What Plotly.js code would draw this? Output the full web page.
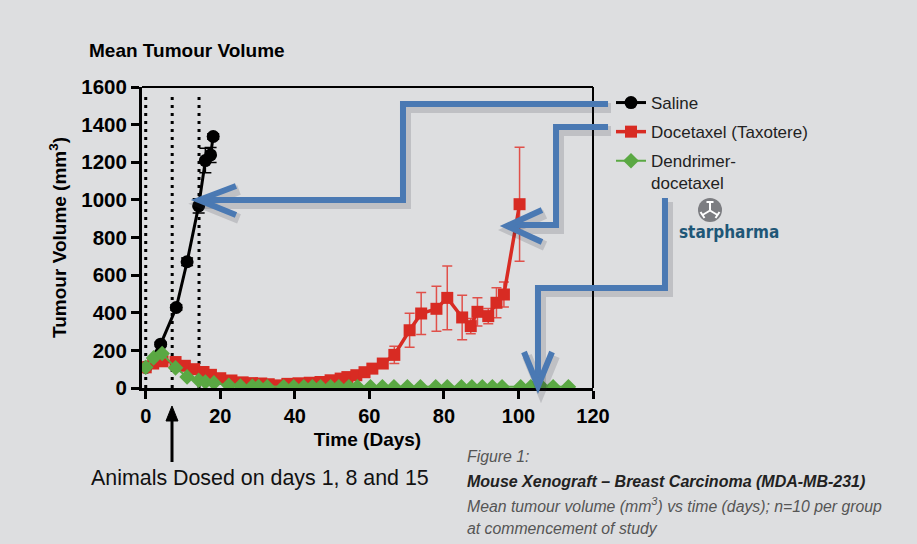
<!DOCTYPE html>
<html><head><meta charset="utf-8">
<script src="https://cdn.plot.ly/plotly-3.0.1.min.js"></script>
<style>html,body{margin:0;padding:0;background:#dddee0;} #chart{width:917px;height:544px;}</style>
</head><body><div id="chart"></div>
<script>
// ---- data ----
const salineDays = [0, 4, 8.2, 11.1, 14.2, 16, 17.4, 18.1];
const salineVol  = [110, 233, 428, 671, 968, 1209, 1239, 1337];
const salineErr  = [5, 10, 15, 20, 38, 65, 40, 15];

const docDays = [0, 2, 4.5, 8, 10.5, 13, 15.5, 17.5, 20, 23, 26, 28.5, 31, 33, 35, 38, 41, 44, 46.9, 49.6, 52.3, 54.1, 56.5, 58.7, 60.8, 63.6, 66.7, 70.8, 73.9, 78, 80.9, 84.9, 87.2, 89, 91.9, 94.1, 96.1, 100.3];
const docVol  = [110, 130, 142, 138, 118, 100, 85, 70, 52, 40, 30, 26, 24, 20, 14, 22, 25, 28, 32, 41, 50, 58, 68, 84, 103, 130, 176, 307, 396, 421, 479, 375, 329, 405, 382, 453, 497, 977];
const docErr  = [5, 6, 8, 8, 8, 7, 6, 6, 5, 5, 5, 5, 5, 5, 5, 5, 5, 5, 6, 7, 8, 9, 10, 12, 15, 20, 46, 90, 111, 120, 170, 118, 40, 75, 40, 80, 66, 303];

const dendDays = [0, 2.1, 4.4, 8, 11.1, 14.2, 16, 18.3, 22.3, 25.4, 28.6, 30.3, 32.6, 37, 39.7, 42.4, 44.7, 46.9, 49.6, 51.8, 54.5, 56.8, 60.3, 63.5, 66.6, 70.2, 73.7, 77.8, 80.9, 84.7, 87.5, 90.3, 93, 95.6, 100.6, 103.3, 106.2, 109.3, 113.4];
const dendVol  = [110, 160, 183, 107, 59, 41, 32, 27, 14, 11, 9, 8, 7, 6, 6, 6, 6, 6, 6, 6, 6, 6, 6, 6, 6, 6, 6, 6, 6, 6, 6, 6, 6, 6, 6, 6, 6, 6, 6];

const doseLineDays = [0, 7.1, 14.3];
const seriesNames = ['Saline', 'Docetaxel (Taxotere)', 'Dendrimer-<br>docetaxel'];
const xTicks = [0, 20, 40, 60, 80, 100, 120];
const yTicks = [0, 200, 400, 600, 800, 1000, 1200, 1400, 1600];

// ---- layout geometry ----
const W = 917, H = 544, L = 142, R = 324, T = 87, B = 156;
const pw = W - L - R, ph = H - T - B;
const fx = px => (px - L) / pw;
const fy = py => (H - B - py) / ph;
const path = pts => pts.map((p, i) => (i ? 'L' : 'M') + fx(p[0]).toFixed(4) + ',' + fy(p[1]).toFixed(4)).join(' ');

const FONT = 'Liberation Sans, Arial, Helvetica, sans-serif';
const RED = '#d82b23', GREEN = '#5aa843', BLUE = '#4a79b3';

const traces = [
  {x: salineDays, y: salineVol, name: seriesNames[0], type: 'scatter', mode: 'lines+markers',
   legendgroup: 'a',
   line: {color: '#000', width: 3}, marker: {symbol: 'circle', size: 13, color: '#000'},
   error_y: {type: 'data', array: salineErr, color: '#000', thickness: 1.5, width: 6}},
  {x: docDays, y: docVol, name: seriesNames[1], type: 'scatter', mode: 'lines+markers',
   legendgroup: 'b',
   line: {color: RED, width: 3.5}, marker: {symbol: 'square', size: 12, color: RED},
   error_y: {type: 'data', array: docErr, color: '#e0504a', thickness: 1.5, width: 5}},
  {x: dendDays, y: dendVol, name: seriesNames[2], type: 'scatter', mode: 'lines+markers',
   legendgroup: 'c',
   line: {color: GREEN, width: 2}, marker: {symbol: 'diamond', size: 12, color: GREEN}}
];

const shapes = [];
doseLineDays.forEach(d => shapes.push({type: 'line', layer: 'below', xref: 'x', yref: 'paper',
  x0: d, x1: d, y0: 0, y1: 0.97, line: {color: '#000', width: 3, dash: '3px,5px'}}));
// frame top/right
shapes.push({type: 'line', xref: 'paper', yref: 'paper', x0: 0, x1: 1, y0: 1, y1: 1, line: {color: '#000', width: 2}});
shapes.push({type: 'line', xref: 'paper', yref: 'paper', x0: 1, x1: 1, y0: 0, y1: 1, line: {color: '#000', width: 2}});

// blue arrows (decorative)
const arrows = [
  [[608,104],[403,104],[403,200],[200,200]],
  [[236,186],[199,200],[236,215]],
  [[608,127],[556,127],[556,225],[510,225]],
  [[542,210],[507,226],[542,242]],
  [[665,198],[665,288],[538,288],[538,384]],
  [[524,352],[538,386],[552,352]]
];
arrows.forEach(a => shapes.push({type: 'path', xref: 'paper', yref: 'paper',
  path: path(a.map(p => [p[0] + 3, p[1] + 4])), line: {color: 'rgba(40,40,50,0.16)', width: 10}}));
arrows.forEach(a => shapes.push({type: 'path', xref: 'paper', yref: 'paper',
  path: path(a), line: {color: BLUE, width: 6}}));

// up arrow under axis
shapes.push({type: 'line', xref: 'paper', yref: 'paper', x0: fx(172), x1: fx(172), y0: fy(462), y1: fy(418), line: {color: '#000', width: 3}});
shapes.push({type: 'path', xref: 'paper', yref: 'paper', path: path([[166,421],[172,406],[178,421]]) + ' Z', fillcolor: '#000', line: {color: '#000', width: 1}});

// logo icon
shapes.push({type: 'circle', xref: 'paper', yref: 'paper', x0: fx(698), x1: fx(722), y0: fy(222), y1: fy(198), fillcolor: '#7c7d81', line: {width: 0}});
[[[710,210.5],[710,202]],[[710,210.5],[702.5,215]],[[710,210.5],[717.5,215]],
 [[706.5,202],[713.5,202]],[[700.5,212],[704.5,218]],[[719.5,212],[715.5,218]]].forEach(s =>
  shapes.push({type: 'line', xref: 'paper', yref: 'paper', x0: fx(s[0][0]), y0: fy(s[0][1]), x1: fx(s[1][0]), y1: fy(s[1][1]), line: {color: '#fff', width: 2}}));

const ann = (text, px, py, size, color, anchor) => ({text, xref: 'paper', yref: 'paper', x: fx(px), y: fy(py),
  xanchor: anchor || 'left', yanchor: 'middle', showarrow: false, font: {family: FONT, size, color}});

const annotations = [
  ann('Animals Dosed on days 1, 8 and 15', 89, 478, 21.4, '#111'),
  ann('<i>Figure 1:</i>', 465, 456, 15.8, '#555'),
  ann('<b><i>Mouse Xenograft – Breast Carcinoma (MDA-MB-231)</i></b>', 465, 481, 16, '#222'),
  ann('<i>Mean tumour volume (mm<sup>3</sup>) vs time (days); n=10 per group</i>', 465, 505, 15.8, '#555'),
  ann('<i>at commencement of study</i>', 465, 528, 15.8, '#555'),
  {text: '<b>starpharma</b>', xref: 'paper', yref: 'paper', x: fx(729), y: fy(232), xanchor: 'center', yanchor: 'middle',
   showarrow: false, font: {family: 'Liberation Sans Narrow, DejaVu Sans Condensed, sans-serif', size: 17, color: '#1f5777'}}
];

const layout = {
  width: W, height: H,
  margin: {l: L, r: R, t: T, b: B, pad: 0},
  paper_bgcolor: '#dddee0', plot_bgcolor: '#dddee0',
  font: {family: FONT, color: '#000'},
  title: {text: '<b>Mean Tumour Volume</b>', x: 89 / W, xanchor: 'left', xref: 'container',
          y: 1 - 50 / H, yanchor: 'middle', yref: 'container', font: {family: FONT, size: 19, color: '#000'}},
  showlegend: true,
  legend: {x: fx(611), y: fy(85), xanchor: 'left', yanchor: 'top', bgcolor: 'rgba(0,0,0,0)',
           font: {family: FONT, size: 17, color: '#222'}, traceorder: 'grouped', tracegroupgap: 4,
           valign: 'top', itemwidth: 30},
  xaxis: {range: [-1, 120], tickvals: xTicks, ticktext: xTicks.map(String), showgrid: false, zeroline: false,
          showline: true, linecolor: '#000', linewidth: 3, ticks: 'outside', ticklen: 8, tickwidth: 3, tickcolor: '#000',
          tickfont: {family: FONT, size: 20, color: '#000', weight: 'bold'},
          title: {text: '<b>Time (Days)</b>', font: {family: FONT, size: 19, color: '#000'}, standoff: 7}},
  yaxis: {range: [0, 1600], tickvals: yTicks, ticktext: yTicks.map(String), showgrid: false, zeroline: false,
          showline: true, linecolor: '#000', linewidth: 3, ticks: 'outside', ticklen: 8, tickwidth: 3, tickcolor: '#000',
          tickfont: {family: FONT, size: 20.5, color: '#000', weight: 'bold'},
          title: {text: '<b>Tumour Volume (mm<sup>3</sup>)</b>', font: {family: FONT, size: 19, color: '#000'}, standoff: 10}},
  shapes, annotations
};

Plotly.newPlot('chart', traces, layout, {displayModeBar: false, staticPlot: true});
</script></body></html>
